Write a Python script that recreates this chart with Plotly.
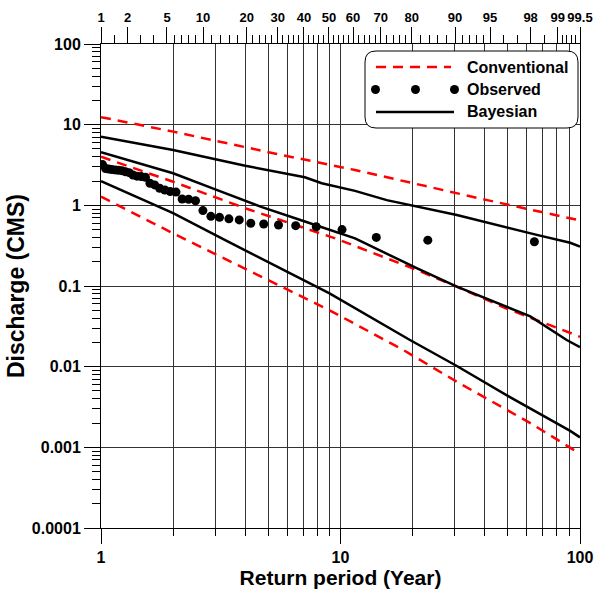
import plotly.graph_objects as go

# ---------------- data ----------------
conv_upper_T = [1, 2, 5.3, 11.5, 41, 62, 100]
conv_upper_Q = [12.4, 8.2, 4.4, 2.74, 1.16, 0.88, 0.65]

conv_mid_T = [1, 2, 4, 9.5, 20, 30.6, 49, 100]
conv_mid_Q = [4.0, 1.96, 0.92, 0.39, 0.166, 0.098, 0.053, 0.0235]

conv_low_T = [1, 2, 9, 18.3, 30.6, 62, 97]
conv_low_Q = [1.28, 0.45, 0.05, 0.0161, 0.0065, 0.002, 0.00088]

bayes_upper_T = [1, 2, 4, 7.1, 8.35, 11.5, 15.6, 30.6, 66, 91, 100]
bayes_upper_Q = [7.1, 4.85, 3.1, 2.23, 1.88, 1.51, 1.16, 0.76, 0.43, 0.344, 0.307]

bayes_mid_T = [1, 2, 3, 4.7, 7.1, 11.5, 20.8, 30.6, 62, 88, 100]
bayes_mid_Q = [4.55, 2.5, 1.58, 0.95, 0.63, 0.39, 0.166, 0.098, 0.042, 0.0214, 0.0175]

bayes_low_T = [1, 2, 3.3, 9, 19.5, 30.6, 51, 70, 91, 100]
bayes_low_Q = [2.0, 0.8, 0.37, 0.081, 0.0214, 0.0102, 0.0042, 0.0025, 0.0016, 0.00133]

obs_T = [1.015, 1.045, 1.076, 1.109, 1.145, 1.182, 1.222, 1.265, 1.311, 1.360,
         1.413, 1.471, 1.533, 1.601, 1.675, 1.757, 1.847, 1.946, 2.057, 2.181,
         2.321, 2.481, 2.664, 2.876, 3.125, 3.420, 3.778, 4.22, 4.78, 5.51,
         6.50, 7.92, 10.15, 14.11, 23.15, 64.5]
obs_Q = [3.2, 2.86, 2.82, 2.78, 2.75, 2.72, 2.69, 2.61, 2.54, 2.38,
         2.3, 2.27, 2.23, 1.88, 1.79, 1.63, 1.55, 1.48, 1.46, 1.2,
         1.19, 1.14, 0.86, 0.73, 0.71, 0.68, 0.66, 0.60, 0.587, 0.57,
         0.56, 0.543, 0.50, 0.40, 0.37, 0.354]

bottom_tick_vals = [1, 10, 100]
bottom_tick_text = ["1", "10", "100"]
y_tick_vals = [0.0001, 0.001, 0.01, 0.1, 1, 10, 100]
y_tick_text = ["0.0001", "0.001", "0.01", "0.1", "1", "10", "100"]

top_tick_text = ["1", "2", "5", "10", "20", "30", "40", "50", "60", "70",
                 "80", "90", "95", "98", "99", "99.5"]
top_tick_T = [1.0, 1.293, 1.886, 2.667, 4.058, 5.467, 7.04, 8.95, 11.28, 14.72,
              19.83, 30.07, 42.1, 62.2, 80.7, 100.0]
top_minor_counts = [1, 2, 4, 4, 4, 4, 4, 4, 4, 4, 4, 4, 2, 1, 4]

# ---------------- styling ----------------
FONT = "Arial, Liberation Sans, sans-serif"
RED = "#ff0000"
GRID = "#333333"

# minor tick positions
decade_minor = [m * 10 ** e for e in range(0, 2) for m in range(2, 10)]
y_minor = [m * 10 ** e for e in range(-4, 2) for m in range(2, 10)]
top_minor = []
for i, n in enumerate(top_minor_counts):
    a, b = top_tick_T[i], top_tick_T[i + 1]
    for k in range(1, n + 1):
        top_minor.append(a * (b / a) ** (k / (n + 1)))

fig = go.Figure()

for T, Q in [(conv_upper_T, conv_upper_Q), (conv_mid_T, conv_mid_Q), (conv_low_T, conv_low_Q)]:
    fig.add_trace(go.Scatter(x=T, y=Q, mode="lines", name="Conventional",
                             line=dict(color=RED, width=2.5, dash="10px,7px"),
                             showlegend=False))

for T, Q in [(bayes_upper_T, bayes_upper_Q), (bayes_mid_T, bayes_mid_Q), (bayes_low_T, bayes_low_Q)]:
    fig.add_trace(go.Scatter(x=T, y=Q, mode="lines", name="Bayesian",
                             line=dict(color="black", width=2.5),
                             showlegend=False))

# observed points drawn against the top (same log scale) axis so it is rendered
fig.add_trace(go.Scatter(x=obs_T, y=obs_Q, mode="markers", name="Observed",
                         xaxis="x2", yaxis="y",
                         marker=dict(color="black", size=9), showlegend=False))

tickfont = dict(family=FONT, size=16, color="black", weight="bold")

fig.update_layout(
    width=595, height=601,
    margin=dict(l=101, r=15, t=44, b=73, autoexpand=False),
    paper_bgcolor="white", plot_bgcolor="white",
    font=dict(family=FONT, color="black"),
    xaxis=dict(
        type="log", range=[0, 2], showline=True, linecolor="black", linewidth=1,
        automargin=False,
        tickmode="array", tickvals=bottom_tick_vals, ticktext=bottom_tick_text,
        ticks="outside", ticklen=15, tickcolor="black", tickwidth=1,
        tickfont=tickfont, showgrid=True, gridcolor=GRID, gridwidth=1,
        zeroline=False,
        minor=dict(tickmode="array", tickvals=decade_minor, ticks="outside",
                   ticklen=7, tickcolor="black", showgrid=True, gridcolor=GRID,
                   gridwidth=1),
        title=dict(text="Return period (Year)", standoff=2,
                   font=dict(family=FONT, size=21, weight="bold")),
    ),
    xaxis2=dict(
        type="log", range=[0, 2], overlaying="x", side="top", anchor="y",
        showline=True, linecolor="black", linewidth=1, automargin=False,
        tickmode="array", tickvals=top_tick_T, ticktext=top_tick_text,
        ticks="outside", ticklen=16, tickcolor="black", tickwidth=1,
        tickfont=dict(family=FONT, size=13, color="black", weight="bold"),
        showgrid=False, zeroline=False,
        minor=dict(tickmode="array", tickvals=top_minor, ticks="outside",
                   ticklen=8, tickcolor="black", showgrid=False),
    ),
    yaxis=dict(
        type="log", range=[-4, 2], showline=True, linecolor="black", linewidth=1,
        mirror=True, automargin=False,
        tickmode="array", tickvals=y_tick_vals, ticktext=y_tick_text,
        ticks="outside", ticklen=16, tickcolor="black", tickwidth=1,
        tickfont=tickfont, showgrid=True, gridcolor=GRID, gridwidth=1,
        zeroline=False,
        minor=dict(tickmode="array", tickvals=y_minor, ticks="outside",
                   ticklen=8, tickcolor="black", showgrid=False),
        title=dict(text="Discharge (CMS)", standoff=0,
                   font=dict(family=FONT, size=23, weight="bold")),
    ),
)

# ---------------- manual legend (rounded box) ----------------
W, H = 479.0, 484.0
def px(x):
    return (x - 101) / W
def py(y):
    return (528 - y) / H

bx0, bx1, by0, by1, r = 365, 578, 51, 128, 11
path = (f"M {px(bx0 + r)},{py(by0)} L {px(bx1 - r)},{py(by0)} "
        f"Q {px(bx1)},{py(by0)} {px(bx1)},{py(by0 + r)} "
        f"L {px(bx1)},{py(by1 - r)} Q {px(bx1)},{py(by1)} {px(bx1 - r)},{py(by1)} "
        f"L {px(bx0 + r)},{py(by1)} Q {px(bx0)},{py(by1)} {px(bx0)},{py(by1 - r)} "
        f"L {px(bx0)},{py(by0 + r)} Q {px(bx0)},{py(by0)} {px(bx0 + r)},{py(by0)} Z")
shapes = [dict(type="path", xref="paper", yref="paper", path=path,
               fillcolor="white", line=dict(color="black", width=1), layer="above")]
rows = [67, 89.5, 112]
shapes.append(dict(type="line", xref="paper", yref="paper",
                   x0=px(376), x1=px(451), y0=py(rows[0]), y1=py(rows[0]),
                   line=dict(color=RED, width=2.5, dash="10px,7px"), layer="above"))
shapes.append(dict(type="line", xref="paper", yref="paper",
                   x0=px(376), x1=px(454), y0=py(rows[2]), y1=py(rows[2]),
                   line=dict(color="black", width=2.5), layer="above"))
for cx in [375.5, 415.5, 454.5]:
    shapes.append(dict(type="circle", xref="paper", yref="paper",
                       x0=px(cx - 4.5), x1=px(cx + 4.5),
                       y0=py(rows[1] + 4.5), y1=py(rows[1] - 4.5),
                       fillcolor="black", line=dict(color="black", width=0),
                       layer="above"))
fig.update_layout(shapes=shapes)

legend_labels = ["Conventional", "Observed", "Bayesian"]
for lab, ry in zip(legend_labels, rows):
    fig.add_annotation(x=px(465), y=py(ry), xref="paper", yref="paper",
                       text=lab, showarrow=False, xanchor="left", yanchor="middle",
                       font=dict(family=FONT, size=16, color="black", weight="bold"))

fig.write_html("out.html")
